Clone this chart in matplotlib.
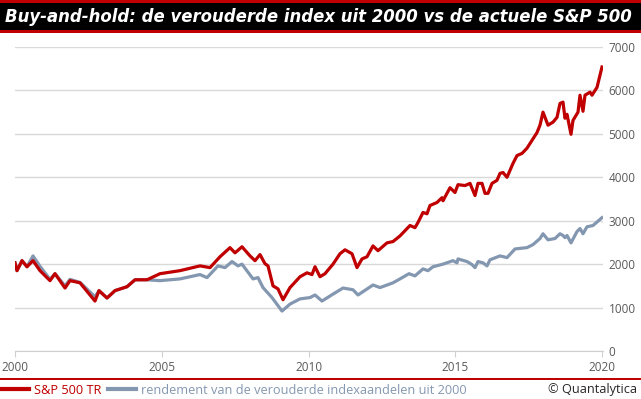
import numpy as np
import matplotlib
matplotlib.use("Agg")
import matplotlib.pyplot as plt
from matplotlib.patches import Rectangle
from matplotlib.lines import Line2D

# --- Dados (posição em pixels -> anos, valor do índice) ---
px_sp = [15, 17, 22, 27, 33, 40, 50, 55, 65, 70, 80, 95, 99, 107, 115, 127,
         135, 147, 160, 180, 200, 210, 220, 230, 235, 242, 250, 255, 260, 265,
         268, 273, 278, 283, 290, 300, 307, 312, 315, 320, 325, 333, 340, 345,
         352, 357, 362, 367, 373, 378, 387, 393, 400, 410, 415, 418, 423, 427,
         430, 437, 442, 443, 450, 455, 458, 465, 470, 475, 478, 482, 485, 488,
         492, 497, 500, 503, 507, 513, 517, 522, 527, 532, 537, 540, 543, 548,
         553, 557, 560, 563, 565, 567, 571, 573, 578, 580, 583, 585, 590, 592,
         597, 602]
sp_year = [2000 + (p - 15) / 29.35 for p in px_sp]
sp_tr = [2030, 1850, 2080, 1940, 2080, 1850, 1620, 1780,
         1450, 1620, 1570, 1150, 1390, 1220, 1390, 1480,
         1640, 1640, 1780, 1850, 1960, 1920, 2170, 2380,
         2260, 2400, 2190, 2080, 2220, 2010, 1960, 1500,
         1430, 1180, 1460, 1710, 1800, 1760, 1940, 1710,
         1780, 2000, 2240, 2330, 2240, 1920, 2120, 2170,
         2420, 2310, 2490, 2520, 2650, 2890, 2840, 2960,
         3190, 3160, 3350, 3420, 3530, 3460, 3760, 3650,
         3830, 3810, 3860, 3580, 3860, 3860, 3630, 3630,
         3860, 3930, 4090, 4110, 4000, 4320, 4500, 4550,
         4670, 4850, 5030, 5200, 5500, 5200, 5270, 5380,
         5700, 5730, 5360, 5450, 4990, 5310, 5500, 5890,
         5520, 5890, 5960, 5890, 6070, 6540]

px_old = [15, 17, 22, 27, 33, 40, 50, 55, 65, 70, 80, 95, 99, 107, 115, 127,
          135, 147, 160, 180, 200, 207, 218, 225, 232, 238, 242, 253, 258, 263,
          272, 282, 290, 300, 310, 315, 322, 333, 343, 353, 358, 373, 380, 393,
          400, 409, 415, 423, 428, 433, 443, 453, 457, 458, 467, 472, 475, 478,
          483, 487, 490, 500, 507, 515, 527, 533, 540, 543, 548, 555, 560, 563,
          565, 567, 571, 577, 580, 583, 587, 593, 602]
oud_year = [2000 + (p - 15) / 29.35 for p in px_old]
oud_index = [2030, 1850, 2080, 1940, 2190, 1950, 1650, 1780, 1500, 1650, 1580,
             1250, 1390, 1220, 1390, 1480, 1640, 1640, 1620, 1660, 1760, 1690,
             1960, 1920, 2060, 1960, 2000, 1660, 1690, 1460, 1230, 920, 1080,
             1200, 1230, 1290, 1150, 1310, 1450, 1410, 1290, 1520, 1460, 1570,
             1660, 1780, 1730, 1890, 1850, 1940, 2000, 2080, 2030, 2120, 2060,
             1990, 1920, 2060, 2030, 1960, 2100, 2190, 2150, 2350, 2380, 2450,
             2590, 2700, 2560, 2590, 2700, 2660, 2610, 2660, 2490, 2750, 2820,
             2700, 2860, 2890, 3070]

x_ticks = [2000, 2005, 2010, 2015, 2020]
y_ticks = [0, 1000, 2000, 3000, 4000, 5000, 6000, 7000]

titel = "Buy-and-hold: de verouderde index uit 2000 vs de actuele S&P 500"
label_sp = "S&P 500 TR"
label_oud = "rendement van de verouderde indexaandelen uit 2000"

ROOD = "#C00000"
GRIJS = "#8497B0"
W, H = 641, 399

plt.rcParams['font.family'] = ['Open Sans', 'DejaVu Sans']

fig = plt.figure(figsize=(W / 100, H / 100), dpi=100)
fig.patch.set_facecolor("white")

# --- Banda do título ---
fig.add_artist(Rectangle((0, 1 - 33 / H), 1, 33 / H, transform=fig.transFigure,
                         facecolor=ROOD, edgecolor="none"))
fig.add_artist(Rectangle((0, 1 - 30 / H), 1, 27 / H, transform=fig.transFigure,
                         facecolor="black", edgecolor="none"))
t = fig.text(5 / W, 1 - 17 / H, titel, color="white", fontsize=15,
             fontweight="bold", fontstyle="italic", fontstretch="condensed",
             va="center", ha="left", family=['DejaVu Sans'])
# ajusta o tamanho para caber na largura (~628 px)
r = fig.canvas.get_renderer()
largura = t.get_window_extent(r).width
t.set_fontsize(15 * 626 / largura)

# --- Eixo ---
ax = fig.add_axes([15 / W, (H - 351) / H, 588 / W, 304 / H])
ax.plot(sp_year, sp_tr, color=ROOD, lw=2.3, solid_joinstyle="round", zorder=3)
ax.plot(oud_year, oud_index, color=GRIJS, lw=2.3, solid_joinstyle="round", zorder=2)

ax.set_xlim(2000, 2020 + 1 / 29.35)
ax.set_ylim(0, 7000)
ax.set_xticks(x_ticks)
ax.set_yticks(y_ticks)
ax.yaxis.tick_right()
ax.grid(axis="y", color="#d9d9d9", lw=1)
ax.set_axisbelow(True)
for s in ["top", "left", "right"]:
    ax.spines[s].set_visible(False)
ax.spines["bottom"].set_color("#d0d0d0")
ax.tick_params(axis="x", colors="#d0d0d0", length=4, labelcolor="#595959",
               labelsize=8.5, pad=3)
ax.tick_params(axis="y", length=0, labelcolor="#595959", labelsize=8.5, pad=4)

# --- Linha e legenda inferior ---
fig.add_artist(Rectangle((0, (H - 380) / H), 1, 2 / H, transform=fig.transFigure,
                         facecolor=ROOD, edgecolor="none"))
handles = [Line2D([], [], color=ROOD, lw=3), Line2D([], [], color=GRIJS, lw=3)]
leg = fig.legend(handles, [label_sp, label_oud], loc="center left",
                 bbox_to_anchor=(1 / W, (H - 390) / H), ncol=2, frameon=False,
                 fontsize=9.2, handlelength=2.2, handletextpad=0.4,
                 columnspacing=0.5, borderaxespad=0, borderpad=0)
leg.get_texts()[0].set_color(ROOD)
leg.get_texts()[1].set_color(GRIJS)
fig.text(637 / W, (H - 390) / H, "© Quantalytica", color="#262626",
         fontsize=9.2, ha="right", va="center")

fig.savefig("out.png", dpi=100)
